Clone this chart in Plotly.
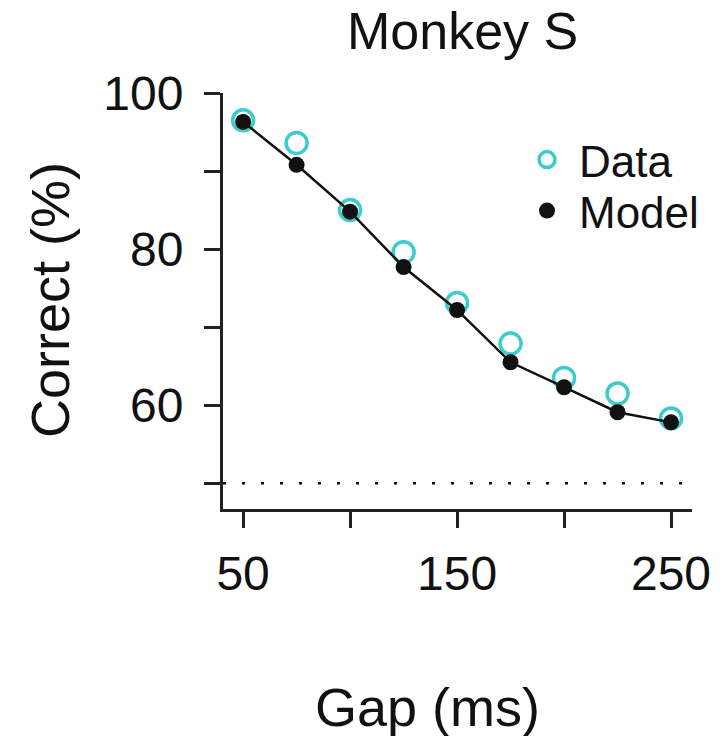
import plotly.graph_objects as go

# ---- data ----
gap_ms = [50, 75, 100, 125, 150, 175, 200, 225, 250]
data_correct = [96.5, 93.6, 85.0, 79.6, 73.1, 67.9, 63.5, 61.5, 58.3]
model_correct = [96.3, 90.8, 84.8, 77.7, 72.2, 65.5, 62.3, 59.1, 57.8]
chance_level = 50

x_tickvals = [50, 100, 150, 200, 250]
x_ticktext = ["50", "", "150", "", "250"]
y_tickvals = [50, 60, 70, 80, 90, 100]
y_ticktext = ["", "60", "", "80", "", "100"]

FONT = "Liberation Sans, Arial, sans-serif"
CYAN = "#3ccccc"
INK = "#111111"

W, H = 727, 736
L, R, T, B = 223, 35, 93, 227
pw, ph = W - L - R, H - T - B

def px_x(p):
    return (p - L) / pw

def px_y(p):
    return (H - B - p) / ph

fig = go.Figure()

fig.add_trace(go.Scatter(
    x=gap_ms, y=data_correct, mode="markers", name="Data", legend="legend",
    marker=dict(symbol="circle-open", size=21, color=CYAN, line=dict(width=3.5, color=CYAN)),
    cliponaxis=False,
))
fig.add_trace(go.Scatter(
    x=gap_ms, y=model_correct, mode="lines", showlegend=False,
    line=dict(color=INK, width=2.5), cliponaxis=False,
))
fig.add_trace(go.Scatter(
    x=gap_ms, y=model_correct, mode="markers", name="Model", legend="legend2",
    marker=dict(symbol="circle", size=16, color=INK),
    cliponaxis=False,
))

# chance level dotted line
fig.add_shape(type="line", xref="x", yref="y",
              x0=gap_ms[0] - 9.4, x1=gap_ms[-1] + 9.8, y0=chance_level, y1=chance_level,
              line=dict(color=INK, width=2.5, dash="3px,16px"), layer="below")

legend_common = dict(xanchor="left", yanchor="middle",
                     font=dict(size=44, family=FONT, color=INK),
                     bgcolor="rgba(0,0,0,0)", itemsizing="trace", itemwidth=54)

fig.update_layout(
    width=W, height=H,
    margin=dict(l=L, r=R, t=T, b=B),
    paper_bgcolor="white", plot_bgcolor="white",
    font=dict(family=FONT, color=INK),
    showlegend=True,
    legend=dict(x=px_x(515), y=px_y(160), **legend_common),
    legend2=dict(x=px_x(515), y=px_y(211), **legend_common),
)

fig.update_xaxes(
    range=[40.6, 259.8], showgrid=False, zeroline=False,
    showline=True, linecolor="#222222", linewidth=3,
    ticks="outside", ticklen=16, tickwidth=3, tickcolor="#222222",
    tickvals=x_tickvals, ticktext=x_ticktext, ticklabelstandoff=4,
    tickfont=dict(size=48, family=FONT, color=INK),
)
fig.update_yaxes(
    range=[46.7, 100], showgrid=False, zeroline=False,
    showline=True, linecolor="#222222", linewidth=3,
    ticks="outside", ticklen=16, tickwidth=3, tickcolor="#222222",
    tickvals=y_tickvals, ticktext=y_ticktext, ticklabelstandoff=11,
    tickfont=dict(size=48, family=FONT, color=INK),
)

fig.add_annotation(text="Monkey S", x=px_x(462), y=px_y(31), xref="paper", yref="paper",
                   xanchor="center", yanchor="middle", showarrow=False,
                   font=dict(size=52, family=FONT, color=INK))
fig.add_annotation(text="Gap (ms)", x=px_x(427), y=px_y(707), xref="paper", yref="paper",
                   xanchor="center", yanchor="middle", showarrow=False,
                   font=dict(size=54, family=FONT, color=INK))
fig.add_annotation(text="Correct (%)", x=px_x(50), y=px_y(300), xref="paper", yref="paper",
                   xanchor="center", yanchor="middle", showarrow=False, textangle=-90,
                   font=dict(size=54, family=FONT, color=INK))

fig.write_html("out.html", config={"displayModeBar": False},
               post_script="document.body.style.margin='0';document.body.style.overflow='hidden';")
